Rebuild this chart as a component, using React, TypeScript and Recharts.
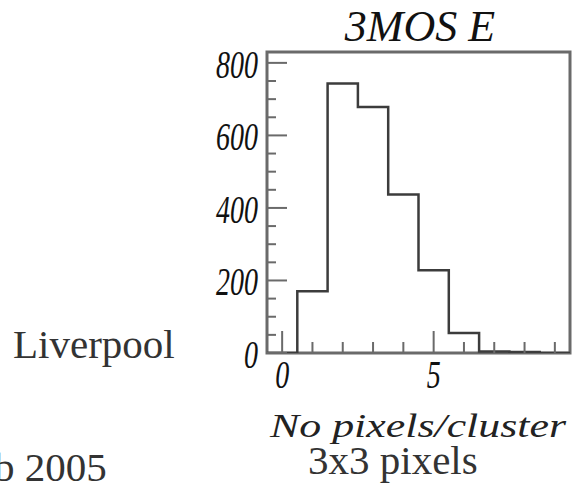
import { LineChart, Line, XAxis, YAxis, ReferenceArea } from 'recharts'

// histogram of cluster sizes, bins centred on integers
const binCenters = [0, 1, 2, 3, 4, 5, 6, 7, 8, 9]
const counts = [0, 170, 743, 678, 437, 228, 55, 4, 3, 0]
const binWidth = 1

const xTicks = [0, 1, 2, 3, 4, 5, 6, 7, 8, 9]
const xMajorTicks = [0, 5]
const yTicks = [0, 50, 100, 150, 200, 250, 300, 350, 400, 450, 500, 550, 600, 650, 700, 750, 800]
const yMajorTicks = [0, 200, 400, 600, 800]

const title = '3MOS E'
const xTitle = 'No pixels/cluster'

const AXIS = '#6a6a6a'
const LINE = '#3c3c3c'
const SERIF = '"Liberation Serif", "Times New Roman", serif'

const histData = [
  ...binCenters.map((c, i) => ({ x: c - binWidth / 2, y: counts[i] })),
  { x: binCenters[binCenters.length - 1] + binWidth / 2, y: counts[counts.length - 1] },
]

function YTick(props: any) {
  const { x, y, payload } = props
  const major = yMajorTicks.includes(payload.value)
  const label = String(payload.value)
  return (
    <g>
      <line x1={x} y1={y} x2={x + (major ? 20 : 9)} y2={y} stroke={AXIS} strokeWidth={2} />
      {major && (
        <text
          x={x - 9}
          y={y + 15}
          textAnchor="end"
          fontFamily={SERIF}
          fontStyle="italic"
          fontSize={41}
          fill="#111"
          textLength={label.length * 14}
          lengthAdjust="spacingAndGlyphs"
        >
          {label}
        </text>
      )}
    </g>
  )
}

function XTick(props: any) {
  const { x, y, payload } = props
  const major = xMajorTicks.includes(payload.value)
  const label = String(payload.value)
  return (
    <g>
      <line x1={x} y1={y} x2={x} y2={y - (major ? 22 : 11)} stroke={AXIS} strokeWidth={2} />
      {major && (
        <text
          x={x}
          y={y + 35}
          textAnchor="middle"
          fontFamily={SERIF}
          fontStyle="italic"
          fontSize={41}
          fill="#111"
          textLength={label.length * 14}
          lengthAdjust="spacingAndGlyphs"
        >
          {label}
        </text>
      )}
    </g>
  )
}

export default function App() {
  return (
    <div style={{ position: 'absolute', left: 0, top: 0, width: 574, height: 491, background: '#fff' }}>
      <LineChart
        width={574}
        height={491}
        data={histData}
        margin={{ top: 52, right: 4, left: 0, bottom: 0 }}
      >
        <XAxis
          dataKey="x"
          type="number"
          domain={[-0.5, 9.5]}
          ticks={xTicks}
          interval={0}
          allowDataOverflow
          axisLine={false}
          tickLine={false}
          tickSize={0}
          tickMargin={0}
          height={138}
          tick={<XTick />}
        />
        <YAxis
          type="number"
          domain={[0, 830]}
          ticks={yTicks}
          interval={0}
          allowDataOverflow
          axisLine={false}
          tickLine={false}
          tickSize={0}
          tickMargin={0}
          width={267}
          tick={<YTick />}
        />
        <Line
          type="stepAfter"
          dataKey="y"
          stroke={LINE}
          strokeWidth={2.5}
          dot={false}
          activeDot={false}
          isAnimationActive={false}
        />
        <ReferenceArea x1={-0.5} x2={9.5} y1={0} y2={830} fill="none" stroke={AXIS} strokeWidth={3} />
      </LineChart>
      <svg
        width={574}
        height={491}
        style={{ position: 'absolute', left: 0, top: 0, pointerEvents: 'none' }}
      >
        <text x={420} y={41} textAnchor="middle" fontFamily={SERIF} fontStyle="italic" fontSize={44} fill="#111">
          {title}
        </text>
        <text
          x={566}
          y={437}
          textAnchor="end"
          fontFamily={SERIF}
          fontStyle="italic"
          fontSize={34}
          fill="#222"
          textLength={296}
          lengthAdjust="spacingAndGlyphs"
        >
          {xTitle}
        </text>
        <text x={13} y={358} fontFamily={SERIF} fontSize={41} fill="#333">
          Liverpool
        </text>
        <text x={308} y={474} fontFamily={SERIF} fontSize={41} fill="#333">
          3x3 pixels
        </text>
        <text x={-47} y={481} fontFamily={SERIF} fontSize={41} fill="#333">
          Feb 2005
        </text>
      </svg>
    </div>
  )
}
